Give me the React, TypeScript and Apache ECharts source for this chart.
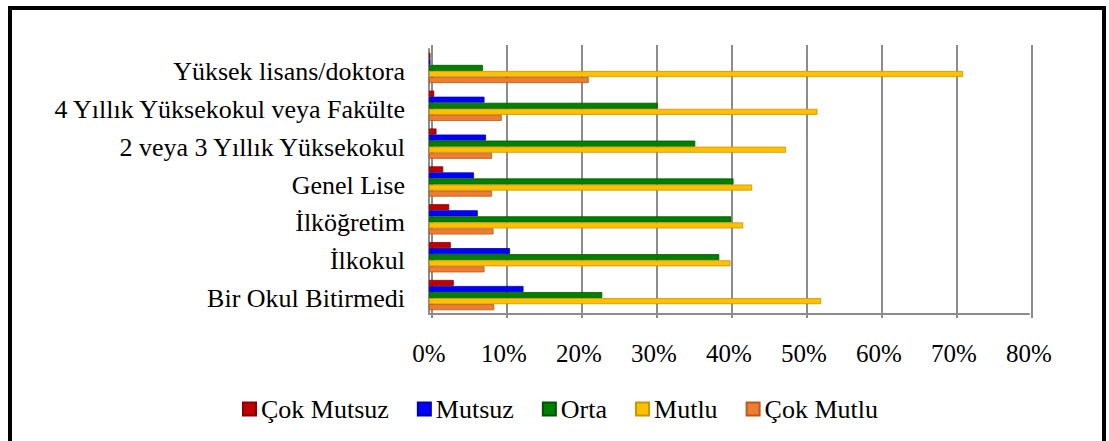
import React, { useEffect, useRef } from "react";
import * as echarts from "echarts";

const categories = [
  "Bir Okul Bitirmedi",
  "İlkokul",
  "İlköğretim",
  "Genel Lise",
  "2 veya 3 Yıllık Yüksekokul",
  "4 Yıllık Yüksekokul veya Fakülte",
  "Yüksek lisans/doktora",
];
const seriesNames = ["Çok Mutsuz", "Mutsuz", "Orta", "Mutlu", "Çok Mutlu"];
const cokMutsuz = [3.3, 2.9, 2.7, 1.9, 1.0, 0.7, 0.2];
const mutsuz = [12.6, 10.8, 6.5, 6.0, 7.6, 7.4, 0.2];
const orta = [23.1, 38.7, 40.3, 40.6, 35.5, 30.5, 7.2];
const mutlu = [52.3, 40.2, 41.9, 43.1, 47.6, 51.8, 71.2];
const cokMutlu = [8.7, 7.4, 8.6, 8.4, 8.4, 9.7, 21.3];
const colors = ["#C00000", "#0000FF", "#008000", "#FFC000", "#ED7D31"];
const borders = ["#8a0000", "#0000a8", "#005400", "#c99600", "#b85a1c"];
const xTicks = { min: 0, max: 80, interval: 10 };

const FONT = "Liberation Serif";

export default function App() {
  const ref = useRef<HTMLDivElement>(null);
  useEffect(() => {
    if (!ref.current) return;
    const chart = echarts.init(ref.current, undefined, { renderer: "svg" });
    const data = [cokMutsuz, mutsuz, orta, mutlu, cokMutlu];
    chart.setOption({
      animation: false,
      backgroundColor: "#fff",
      textStyle: { fontFamily: FONT },
      legend: {
        data: seriesNames,
        left: 242,
        top: 396,
        padding: 0,
        itemWidth: 13,
        itemHeight: 13,
        itemGap: 28,
        icon: "rect",
        textStyle: { fontFamily: FONT, fontSize: 26, color: "#000" },
      },
      graphic: [
        {
          type: "rect",
          shape: { x: 10, y: 8, width: 1094, height: 460 },
          style: { fill: "none", stroke: "#000", lineWidth: 4 },
          silent: true,
        },
      ],
      grid: [
        { left: 429, width: 600, top: 49, height: 265, containLabel: false },
        { left: 432, width: 600, top: 45, height: 273, containLabel: false },
      ],
      xAxis: [
        {
          type: "value",
          gridIndex: 0,
          min: xTicks.min,
          max: xTicks.max,
          interval: xTicks.interval,
          axisLine: { show: true, lineStyle: { color: "#8c8c8c", width: 2 } },
          axisTick: { show: false },
          splitLine: { show: false },
          axisLabel: {
            formatter: "{value}%",
            fontFamily: FONT,
            fontSize: 25,
            color: "#000",
            margin: 27,
          },
        },
        {
          type: "value",
          gridIndex: 1,
          min: xTicks.min,
          max: xTicks.max,
          interval: xTicks.interval,
          axisLine: { show: false },
          axisTick: { show: false },
          axisLabel: { show: false },
          splitLine: { show: true, lineStyle: { color: "#8c8c8c", width: 2 } },
        },
      ],
      yAxis: [
        {
          type: "category",
          gridIndex: 0,
          data: categories,
          axisLine: { show: true, lineStyle: { color: "#8c8c8c", width: 2 } },
          axisTick: { show: false },
          axisLabel: {
            margin: 24,
            formatter: "{a|{value}}",
            rich: {
              a: {
                fontFamily: FONT,
                fontSize: 26,
                color: "#000",
                padding: [7, 0, 0, 0],
              },
            },
          },
        },
        {
          type: "value",
          gridIndex: 1,
          show: false,
          splitLine: { show: false },
        },
      ],
      series: seriesNames.map((name, i) => ({
        name,
        type: "bar",
        xAxisIndex: 0,
        yAxisIndex: 0,
        data: data[i],
        barGap: "0%",
        barCategoryGap: "20%",
        itemStyle: {
          color: colors[i],
          borderColor: borders[i],
          borderWidth: 0.8,
        },
      })),
    });
    return () => chart.dispose();
  }, []);
  return (
    <div
      ref={ref}
      style={{ position: "fixed", left: 0, top: 0, width: 1109, height: 441 }}
    />
  );
}
